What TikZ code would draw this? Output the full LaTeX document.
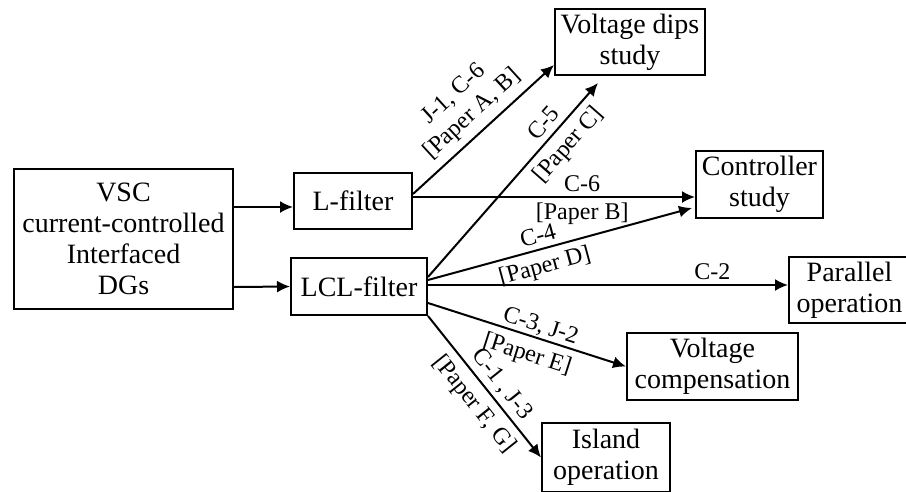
\documentclass[tikz,border=0pt]{standalone}
\usepackage{fontspec}
\setmainfont{Liberation Serif}
\usetikzlibrary{arrows.meta,calc}
\begin{document}
\begin{tikzpicture}[x=1pt,y=-1pt,
  box/.style={draw, line width=2pt, align=center, inner sep=0pt, font=\fontsize{28}{31}\selectfont},
  arr/.style={line width=2pt, -{Latex[length=13pt,width=12pt]}},
  lab/.style={sloped, inner sep=0pt, text height=16pt, text depth=5pt, font=\fontsize{24}{27}\selectfont}]
\useasboundingbox (0,0) rectangle (906,491);
\clip (0,0) rectangle (906,491);
\fill[white] (0,0) rectangle (906,491);
% boxes
\node[box, minimum width=219pt, minimum height=140pt] (vsc) at (123.5,239) {VSC\\current-controlled\\Interfaced\\DGs};
\node[box, minimum width=118pt, minimum height=56pt] (lf) at (353,201) {L-filter};
\node[box, minimum width=136pt, minimum height=57pt] (lcl) at (359,286.5) {LCL-filter};
\node[box, minimum width=150pt, minimum height=66pt] (vd) at (630,42) {Voltage dips\\study};
\node[box, minimum width=127pt, minimum height=67pt] (ctl) at (759.5,184.5) {Controller\\study};
\node[box, minimum width=121pt, minimum height=66pt] (par) at (849.5,290) {Parallel\\operation};
\node[box, minimum width=171pt, minimum height=67pt] (vc) at (712.5,366.5) {Voltage\\compensation};
\node[box, minimum width=128pt, minimum height=69pt] (isl) at (606,457.5) {Island\\operation};
% connectors
\draw[arr] ($(vsc.east)+(0,-32)$) -- ($(lf.west)+(0,6)$);
\draw[arr] ($(vsc.east)+(0,48)$) -- (lcl.west);
\draw[arr] ($(lf.east)+(0,-7)$) -- node[lab, pos=.51, above=34pt] {J-1, C-6} node[lab, pos=.51, above=7pt] {[Paper A, B]} ($(vd.west)+(0,23)$);
\draw[arr] ($(lf.east)+(0,-4)$) -- node[lab, pos=.60, above=0pt] {C-6} node[lab, pos=.60, below=5pt] {[Paper B]} ($(ctl.west)+(0,12.5)$);
\draw[arr] ($(lcl.east)+(0,-9.5)$) -- node[lab, pos=.745, above=1.5pt] {C-5} node[lab, pos=.745, below=8pt] {[Paper C]} ($(vd.south)+(-32,7)$);
\draw[arr] ($(lcl.east)+(0,-6.5)$) -- node[lab, pos=.43, above=0pt] {C-4} node[lab, pos=.425, below=7pt] {[Paper D]} ($(ctl.west)+(-3,23.5)$);
\draw[arr] ($(lcl.east)+(0,-1.5)$) -- node[lab, pos=.79, above=0pt] {C-2} ($(par.west)+(0,-5)$);
\draw[arr] ($(lcl.east)+(0,16.5)$) -- node[lab, pos=.55, above=0pt] {C-3, J-2} node[lab, pos=.53, below=8pt] {[Paper E]} (vc.west);
\draw[arr] (lcl.south east) -- node[lab, pos=.55, above=3pt] {C-1 , J-3} node[lab, pos=.54, below=8pt] {[Paper F, G]} (isl.west);
\end{tikzpicture}
\end{document}
